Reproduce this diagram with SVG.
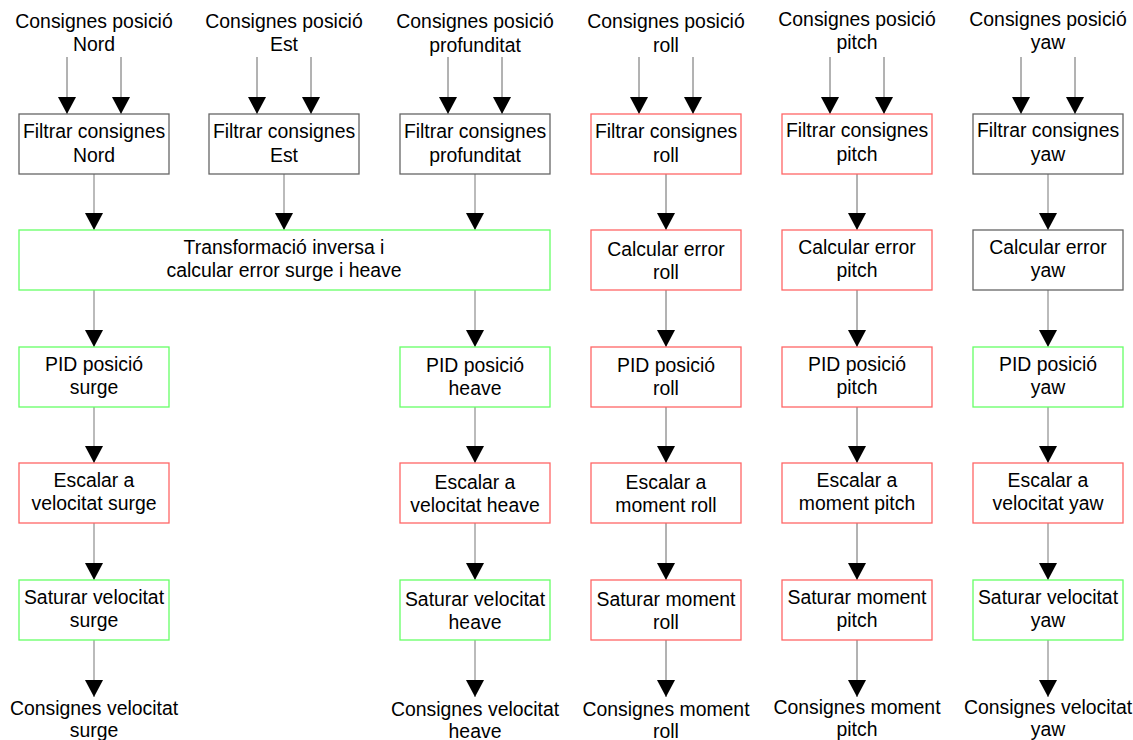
<svg xmlns="http://www.w3.org/2000/svg" width="1133" height="740" viewBox="0 0 1133 740">
  <style>
    text { font-family: "Liberation Sans", Arial, sans-serif; font-size: 19.4px; fill: #000; text-anchor: middle; }
    .box { fill: #fff; stroke-width: 1.3; }
    .k { stroke: #666; }
    .r { stroke: #ff6666; }
    .g { stroke: #66ff66; }
    .dk { stroke: #666; stroke-width: 1; fill: none; marker-end: url(#head); }
    .lt { stroke: #aaa; stroke-width: 1.6; fill: none; marker-end: url(#head); }
  </style>
  <defs>
    <marker id="head" viewBox="0 0 17 18" refX="17" refY="9" markerWidth="17" markerHeight="18" markerUnits="userSpaceOnUse" orient="auto">
      <path d="M0,0 L17,9 L0,18 Z" fill="#000"/>
    </marker>
  </defs>
  <rect width="1133" height="740" fill="#fff"/>

  <!-- connectors -->
  <g id="connectors">
    <!-- setpoint inputs -->
    <line class="dk" x1="67" y1="57" x2="67" y2="114"/>
    <line class="dk" x1="121" y1="57" x2="121" y2="114"/>
    <line class="dk" x1="257" y1="57" x2="257" y2="114"/>
    <line class="dk" x1="311" y1="57" x2="311" y2="114"/>
    <line class="dk" x1="448" y1="57" x2="448" y2="114"/>
    <line class="dk" x1="502" y1="57" x2="502" y2="114"/>
    <line class="dk" x1="639" y1="57" x2="639" y2="114"/>
    <line class="dk" x1="693" y1="57" x2="693" y2="114"/>
    <line class="dk" x1="830" y1="57" x2="830" y2="114"/>
    <line class="dk" x1="884" y1="57" x2="884" y2="114"/>
    <line class="dk" x1="1021" y1="57" x2="1021" y2="114"/>
    <line class="dk" x1="1075" y1="57" x2="1075" y2="114"/>

    <!-- filters into transform -->
    <line class="lt" x1="94" y1="174" x2="94" y2="230"/>
    <line class="lt" x1="284" y1="174" x2="284" y2="230"/>
    <line class="lt" x1="475" y1="174" x2="475" y2="230"/>
    <!-- transform to PIDs -->
    <line class="lt" x1="94" y1="290" x2="94" y2="347"/>
    <line class="lt" x1="475" y1="290" x2="475" y2="347"/>
    <!-- surge chain -->
    <line class="lt" x1="94" y1="407" x2="94" y2="463"/>
    <line class="lt" x1="94" y1="523" x2="94" y2="580"/>
    <line class="lt" x1="94" y1="640" x2="94" y2="697"/>
    <!-- heave chain -->
    <line class="lt" x1="475" y1="407" x2="475" y2="463"/>
    <line class="lt" x1="475" y1="523" x2="475" y2="580"/>
    <line class="lt" x1="475" y1="640" x2="475" y2="697"/>
    <!-- roll chain -->
    <line class="dk" x1="666" y1="174" x2="666" y2="230"/>
    <line class="dk" x1="666" y1="290" x2="666" y2="347"/>
    <line class="dk" x1="666" y1="407" x2="666" y2="463"/>
    <line class="dk" x1="666" y1="523" x2="666" y2="580"/>
    <line class="dk" x1="666" y1="640" x2="666" y2="697"/>
    <!-- pitch chain -->
    <line class="dk" x1="857" y1="174" x2="857" y2="230"/>
    <line class="dk" x1="857" y1="290" x2="857" y2="347"/>
    <line class="dk" x1="857" y1="407" x2="857" y2="463"/>
    <line class="dk" x1="857" y1="523" x2="857" y2="580"/>
    <line class="dk" x1="857" y1="640" x2="857" y2="697"/>
    <!-- yaw chain -->
    <line class="lt" x1="1048" y1="174" x2="1048" y2="230"/>
    <line class="lt" x1="1048" y1="290" x2="1048" y2="347"/>
    <line class="lt" x1="1048" y1="407" x2="1048" y2="463"/>
    <line class="lt" x1="1048" y1="523" x2="1048" y2="580"/>
    <line class="lt" x1="1048" y1="640" x2="1048" y2="697"/>
  </g>

  <!-- input labels -->
  <g id="in-nord"><text x="94" y="28">Consignes posició</text><text x="94" y="51">Nord</text></g>
  <g id="in-est"><text x="284" y="28">Consignes posició</text><text x="284" y="51">Est</text></g>
  <g id="in-prof"><text x="475" y="28">Consignes posició</text><text x="475" y="52">profunditat</text></g>
  <g id="in-roll"><text x="666" y="28">Consignes posició</text><text x="666" y="52">roll</text></g>
  <g id="in-pitch"><text x="857" y="26">Consignes posició</text><text x="857" y="49">pitch</text></g>
  <g id="in-yaw"><text x="1048" y="26">Consignes posició</text><text x="1048" y="49">yaw</text></g>

  <!-- filter row -->
  <g id="filt-nord"><rect class="box k" x="19" y="114" width="150" height="60"/><text x="94" y="138">Filtrar consignes</text><text x="94" y="162">Nord</text></g>
  <g id="filt-est"><rect class="box k" x="209" y="114" width="150" height="60"/><text x="284" y="138">Filtrar consignes</text><text x="284" y="162">Est</text></g>
  <g id="filt-prof"><rect class="box k" x="400" y="114" width="150" height="60"/><text x="475" y="138">Filtrar consignes</text><text x="475" y="162">profunditat</text></g>
  <g id="filt-roll"><rect class="box r" x="591" y="114" width="150" height="60"/><text x="666" y="138">Filtrar consignes</text><text x="666" y="162">roll</text></g>
  <g id="filt-pitch"><rect class="box r" x="782" y="114" width="150" height="60"/><text x="857" y="137">Filtrar consignes</text><text x="857" y="161">pitch</text></g>
  <g id="filt-yaw"><rect class="box k" x="973" y="114" width="150" height="60"/><text x="1048" y="137">Filtrar consignes</text><text x="1048" y="161">yaw</text></g>

  <!-- error row -->
  <g id="transform"><rect class="box g" x="19" y="230" width="531" height="60"/><text x="284" y="254">Transformació inversa i</text><text x="284" y="277">calcular error surge i heave</text></g>
  <g id="err-roll"><rect class="box r" x="591" y="230" width="150" height="60"/><text x="666" y="256">Calcular error</text><text x="666" y="279">roll</text></g>
  <g id="err-pitch"><rect class="box r" x="782" y="230" width="150" height="60"/><text x="857" y="254">Calcular error</text><text x="857" y="277">pitch</text></g>
  <g id="err-yaw"><rect class="box k" x="973" y="230" width="150" height="60"/><text x="1048" y="254">Calcular error</text><text x="1048" y="277">yaw</text></g>

  <!-- PID row -->
  <g id="pid-surge"><rect class="box g" x="19" y="347" width="150" height="60"/><text x="94" y="371">PID posició</text><text x="94" y="394">surge</text></g>
  <g id="pid-heave"><rect class="box g" x="400" y="347" width="150" height="60"/><text x="475" y="372">PID posició</text><text x="475" y="395">heave</text></g>
  <g id="pid-roll"><rect class="box r" x="591" y="347" width="150" height="60"/><text x="666" y="372">PID posició</text><text x="666" y="395">roll</text></g>
  <g id="pid-pitch"><rect class="box r" x="782" y="347" width="150" height="60"/><text x="857" y="371">PID posició</text><text x="857" y="394">pitch</text></g>
  <g id="pid-yaw"><rect class="box g" x="973" y="347" width="150" height="60"/><text x="1048" y="371">PID posició</text><text x="1048" y="394">yaw</text></g>

  <!-- scaling row -->
  <g id="esc-surge"><rect class="box r" x="19" y="463" width="150" height="60"/><text x="94" y="487">Escalar a</text><text x="94" y="510">velocitat surge</text></g>
  <g id="esc-heave"><rect class="box r" x="400" y="463" width="150" height="60"/><text x="475" y="489">Escalar a</text><text x="475" y="512">velocitat heave</text></g>
  <g id="esc-roll"><rect class="box r" x="591" y="463" width="150" height="60"/><text x="666" y="489">Escalar a</text><text x="666" y="512">moment roll</text></g>
  <g id="esc-pitch"><rect class="box r" x="782" y="463" width="150" height="60"/><text x="857" y="487">Escalar a</text><text x="857" y="510">moment pitch</text></g>
  <g id="esc-yaw"><rect class="box r" x="973" y="463" width="150" height="60"/><text x="1048" y="487">Escalar a</text><text x="1048" y="510">velocitat yaw</text></g>

  <!-- saturation row -->
  <g id="sat-surge"><rect class="box g" x="19" y="580" width="150" height="60"/><text x="94" y="604">Saturar velocitat</text><text x="94" y="627">surge</text></g>
  <g id="sat-heave"><rect class="box g" x="400" y="580" width="150" height="60"/><text x="475" y="606">Saturar velocitat</text><text x="475" y="629">heave</text></g>
  <g id="sat-roll"><rect class="box r" x="591" y="580" width="150" height="60"/><text x="666" y="606">Saturar moment</text><text x="666" y="629">roll</text></g>
  <g id="sat-pitch"><rect class="box r" x="782" y="580" width="150" height="60"/><text x="857" y="604">Saturar moment</text><text x="857" y="627">pitch</text></g>
  <g id="sat-yaw"><rect class="box g" x="973" y="580" width="150" height="60"/><text x="1048" y="604">Saturar velocitat</text><text x="1048" y="627">yaw</text></g>

  <!-- output labels -->
  <g id="out-surge"><text x="94" y="715">Consignes velocitat</text><text x="94" y="737">surge</text></g>
  <g id="out-heave"><text x="475" y="716">Consignes velocitat</text><text x="475" y="738">heave</text></g>
  <g id="out-roll"><text x="666" y="716">Consignes moment</text><text x="666" y="738">roll</text></g>
  <g id="out-pitch"><text x="857" y="714">Consignes moment</text><text x="857" y="736">pitch</text></g>
  <g id="out-yaw"><text x="1048" y="714">Consignes velocitat</text><text x="1048" y="736">yaw</text></g>
</svg>
